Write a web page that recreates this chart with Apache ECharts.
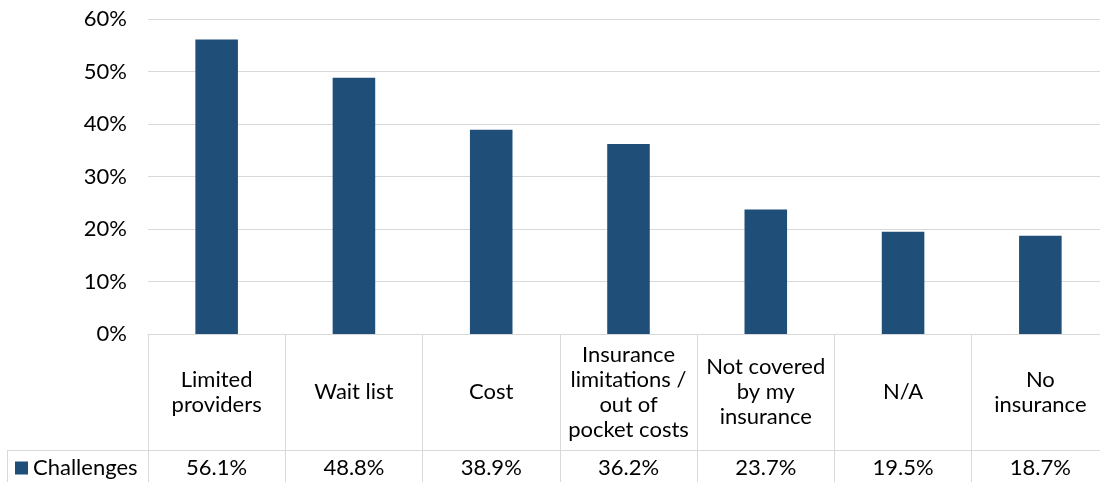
<!DOCTYPE html>
<html>
<head>
<meta charset="utf-8">
<script src="https://cdn.jsdelivr.net/npm/echarts@6/dist/echarts.min.js"></script>
<style>
html,body{margin:0;padding:0;background:#fff;overflow:hidden;width:1100px;height:482px;}
#chart{width:1110px;height:482px;}
</style>
</head>
<body>
<div id="chart"></div>
<script>
var categories = ['Limited\nproviders', 'Wait list', 'Cost', 'Insurance\nlimitations /\nout of\npocket costs', 'Not covered\nby my\ninsurance', 'N/A', 'No\ninsurance'];
var seriesName = 'Challenges';
var values = [56.1, 48.8, 38.9, 36.2, 23.7, 19.5, 18.7];
var yTicks = [0, 10, 20, 30, 40, 50, 60];

var FONT = 'Lato';
var FS = 22;
var LINE = '#d9d9d9';
var chart = echarts.init(document.getElementById('chart'), null, {renderer: 'canvas'});
chart.setOption({
  animation: false,
  backgroundColor: '#ffffff',
  textStyle: {fontFamily: FONT},
  grid: {left: 148, top: 19, right: 1, bottom: 148, containLabel: false},
  legend: {
    data: [seriesName], left: 15, top: 457, padding: 0, icon: 'rect', itemWidth: 13, itemHeight: 13, itemGap: 5,
    selectedMode: false,
    textStyle: {fontFamily: FONT, fontSize: FS, color: '#000'}
  },
  xAxis: [{
    type: 'category', data: categories, position: 'bottom',
    axisLine: {show: true, lineStyle: {color: LINE, width: 1}},
    axisTick: {show: true, alignWithLabel: false, interval: 0, length: 160, lineStyle: {color: LINE, width: 1}},
    axisLabel: {interval: 0, margin: 58, verticalAlign: 'middle', align: 'center', fontFamily: FONT, fontSize: FS, lineHeight: 25, color: '#000'},
    splitLine: {show: false}
  }, {
    type: 'category', data: categories, position: 'bottom', offset: 116,
    axisLine: {show: true, lineStyle: {color: LINE, width: 1}},
    axisTick: {show: false},
    axisLabel: {interval: 0, margin: 18, verticalAlign: 'middle', align: 'center', fontFamily: FONT, fontSize: FS, color: '#000',
      formatter: function (v, i) { return values[i].toFixed(1) + '%'; }},
    splitLine: {show: false}
  }],
  yAxis: {
    type: 'value', min: yTicks[0], max: yTicks[yTicks.length - 1], interval: 10,
    axisLine: {show: false}, axisTick: {show: false},
    axisLabel: {formatter: '{value}%', margin: 21, fontFamily: FONT, fontSize: FS, color: '#000'},
    splitLine: {show: true, lineStyle: {color: LINE, width: 1}}
  },
  series: [{
    name: seriesName, type: 'bar', data: values, barWidth: '31%', xAxisIndex: 0,
    itemStyle: {color: '#1f4e79'}
  }],
  graphic: [
    {type: 'line', shape: {x1: 7, y1: 450.5, x2: 148, y2: 450.5}, style: {stroke: LINE, lineWidth: 1}, silent: true},
    {type: 'line', shape: {x1: 7.5, y1: 450, x2: 7.5, y2: 482}, style: {stroke: LINE, lineWidth: 1}, silent: true}
  ]
});
</script>
</body>
</html>
